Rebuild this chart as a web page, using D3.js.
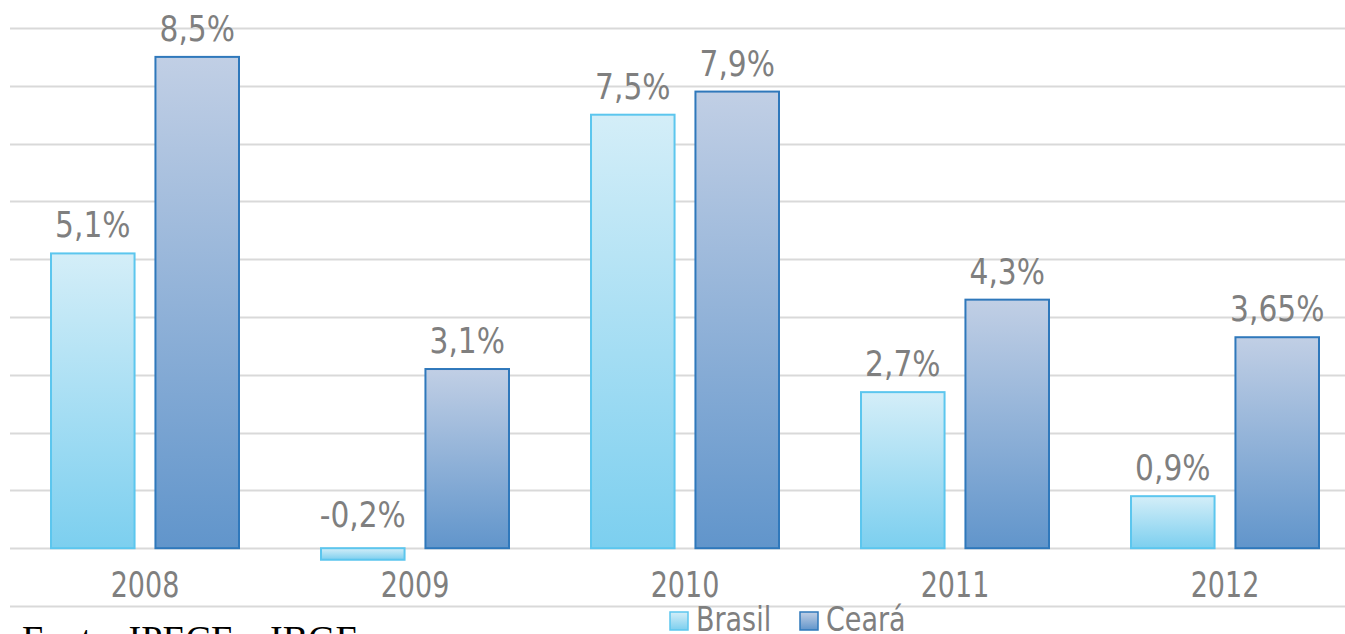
<!DOCTYPE html>
<html>
<head>
<meta charset="utf-8">
<script src="https://cdn.jsdelivr.net/npm/d3@7"></script>
<style>
  html, body { margin: 0; padding: 0; background: #fff; overflow: hidden; }
  svg { display: block; }
</style>
</head>
<body>
<svg id="vis"></svg>
<script>
const years = ["2008", "2009", "2010", "2011", "2012"];
const seriesNames = ["Brasil", "Ceará"];
const brasil = [5.1, -0.2, 7.5, 2.7, 0.9];
const ceara = [8.5, 3.1, 7.9, 4.3, 3.65];
const labelsBrasil = ["5,1%", "-0,2%", "7,5%", "2,7%", "0,9%"];
const labelsCeara = ["8,5%", "3,1%", "7,9%", "4,3%", "3,65%"];
const gridTicks = [-1, 0, 1, 2, 3, 4, 5, 6, 7, 8, 9];

const width = 1345, height = 634;
const font = "'DejaVu Sans Condensed', 'DejaVu Sans', sans-serif";

const svg = d3.select("#vis").attr("width", width).attr("height", height);

// gradients per series
const defs = svg.append("defs");
const grads = [
  { id: "gBrasil", top: "#d4eef8", bottom: "#7ccfef", stroke: "#5cc6ee" },
  { id: "gCeara", top: "#c1cfe5", bottom: "#6195cb", stroke: "#2f78bb" }
];
grads.forEach(g => {
  const lg = defs.append("linearGradient").attr("id", g.id)
    .attr("x1", 0).attr("y1", 0).attr("x2", 0).attr("y2", 1);
  lg.append("stop").attr("offset", "0%").attr("stop-color", g.top);
  lg.append("stop").attr("offset", "100%").attr("stop-color", g.bottom);
});

const y = d3.scaleLinear().domain([-1, 9]).range([606, 28]);
const x = d3.scaleBand().domain(years).range([10, 1360]).paddingInner(0).paddingOuter(0);
const x1 = d3.scaleBand().domain(seriesNames).range([41, 229]).paddingInner(0.2);

// gridlines
svg.append("g").selectAll("line").data(gridTicks).join("line")
  .attr("x1", 10).attr("x2", width)
  .attr("y1", d => Math.round(y(d)) + 0.5).attr("y2", d => Math.round(y(d)) + 0.5)
  .attr("stroke", "#d9d9d9").attr("stroke-width", 2);

const data = years.map((yr, i) => ({
  year: yr,
  vals: [
    { s: "Brasil", v: brasil[i], label: labelsBrasil[i], g: grads[0] },
    { s: "Ceará", v: ceara[i], label: labelsCeara[i], g: grads[1] }
  ]
}));

const groups = svg.append("g").selectAll("g").data(data).join("g")
  .attr("transform", d => `translate(${x(d.year)},0)`);

groups.selectAll("rect").data(d => d.vals).join("rect")
  .attr("x", d => x1(d.s))
  .attr("width", x1.bandwidth())
  .attr("y", d => y(Math.max(0, d.v)))
  .attr("height", d => Math.abs(y(d.v) - y(0)))
  .attr("fill", d => `url(#${d.g.id})`)
  .attr("stroke", d => d.g.stroke)
  .attr("stroke-width", 2);

// value labels, slightly stretched vertically like the original condensed face
groups.selectAll("text").data(d => d.vals).join("text")
  .attr("transform", d => `translate(${x1(d.s) + x1.bandwidth() / 2},${y(Math.max(0, d.v)) - (d.v < 0 ? 21 : 16)}) scale(1,1.08)`)
  .attr("text-anchor", "middle")
  .attr("font-family", font)
  .attr("font-size", 33)
  .attr("fill", "#7f7f7f")
  .text(d => d.label);

// category labels
svg.append("g").selectAll("text").data(years).join("text")
  .attr("transform", d => `translate(${x(d) + x.bandwidth() / 2},597) scale(1,1.17)`)
  .attr("text-anchor", "middle")
  .attr("font-family", font)
  .attr("font-size", 30)
  .attr("fill", "#7f7f7f")
  .text(d => d);

// legend
const legendX = [670, 800];
const legend = svg.append("g").selectAll("g").data(grads).join("g")
  .attr("transform", (d, i) => `translate(${legendX[i]},612)`);
legend.append("rect")
  .attr("width", 18).attr("height", 18)
  .attr("fill", d => `url(#${d.id})`)
  .attr("stroke", d => d.stroke).attr("stroke-width", 1.5);
legend.append("text")
  .attr("transform", "translate(26,19) scale(1,1.1)")
  .attr("font-family", font)
  .attr("font-size", 30)
  .attr("fill", "#7f7f7f")
  .text((d, i) => seriesNames[i]);

// source note (cut off at bottom, as in the original)
svg.append("text")
  .attr("x", 22).attr("y", 652)
  .attr("font-family", "'Liberation Serif', 'Times New Roman', serif")
  .attr("font-size", 38)
  .attr("fill", "#000")
  .text("Fonte: IPECE e IBGE");
</script>
</body>
</html>
